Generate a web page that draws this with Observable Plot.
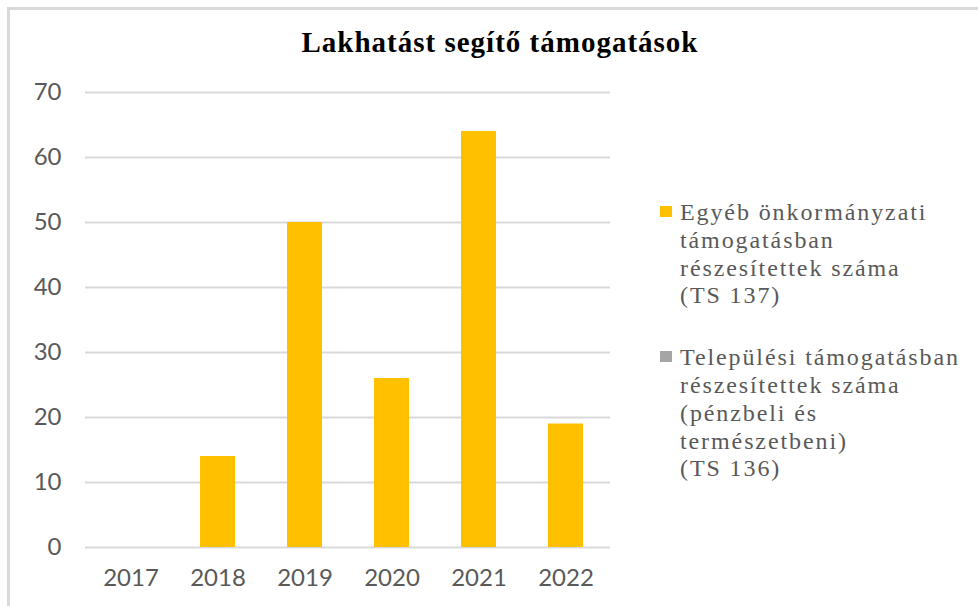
<!DOCTYPE html>
<html>
<head>
<meta charset="utf-8">
<script src="https://cdn.jsdelivr.net/npm/d3@7"></script>
<script src="https://cdn.jsdelivr.net/npm/@observablehq/plot@0.6"></script>
<style>
  html, body { margin: 0; padding: 0; background: #fff; }
  #wrap { position: relative; width: 978px; height: 606px; overflow: hidden; background: #fff; }
  #frame { position: absolute; left: 7px; top: 7px; width: 1000px; height: 700px; border-left: 3px solid #d9d9d9; border-top: 3px solid #d9d9d9; }
  #title { position: absolute; left: 0; width: 1000px; top: 26px; text-align: center; font-family: "Liberation Serif", serif; font-weight: bold; font-size: 29px; letter-spacing: 1px; color: #000; }
  #chart { position: absolute; left: 0; top: 0; }
  #legend { position: absolute; left: 660px; top: 199px; font-family: "Liberation Serif", serif; font-size: 24px; color: #595959; }
  .item { display: flex; align-items: flex-start; }
  .sw { width: 12px; height: 11px; margin-top: 7px; margin-right: 8px; flex: none; }
  .lab { white-space: pre-line; line-height: 27.8px; letter-spacing: 1.9px; }
</style>
</head>
<body>
<div id="wrap">
  <div id="frame"></div>
  <div id="chart"></div>
  <div id="title"></div>
  <div id="legend"></div>
</div>
<script>
const titleText = "Lakhatást segítő támogatások";
const years = ["2017", "2018", "2019", "2020", "2021", "2022"];
const seriesOther = [0, 14, 50, 26, 64, 19];        // Egyéb önkormányzati támogatásban részesítettek száma (TS 137)
const seriesTelepulesi = [null, null, null, null, null, null]; // Települési támogatásban ... (TS 136) – no values shown
const yTicks = [0, 10, 20, 30, 40, 50, 60, 70];
const seriesNames = [
  "Egyéb önkormányzati\ntámogatásban\nrészesítettek száma\n(TS 137)",
  "Települési támogatásban\nrészesítettek száma\n(pénzbeli és\ntermészetbeni)\n(TS 136)"
];
const seriesColors = ["#ffc000", "#a5a5a5"];

const data = years.map((y, i) => ({year: y, value: seriesOther[i]}));

const chart = Plot.plot({
  width: 978,
  height: 606,
  marginLeft: 85,
  marginRight: 368,
  marginTop: 92,
  marginBottom: 59,
  style: {fontFamily: "Lato, sans-serif", background: "transparent"},
  x: {domain: years, paddingInner: 0.6, paddingOuter: 0.3, label: null},
  y: {domain: [0, 70], label: null},
  marks: [
    Plot.ruleY(yTicks, {stroke: "#d9d9d9", strokeWidth: 2}),
    Plot.barY(data.filter(d => d.value > 0), {x: "year", y: "value", fill: seriesColors[0]}),
    Plot.axisY({ticks: yTicks, tickSize: 0, tickPadding: 24, fontSize: 24, fill: "#595959"}),
    Plot.axisX({tickSize: 0, tickPadding: 21, fontSize: 24, fill: "#595959"})
  ]
});
document.getElementById("chart").appendChild(chart);
document.getElementById("title").textContent = titleText;

const legend = document.getElementById("legend");
seriesNames.forEach((name, i) => {
  const item = document.createElement("div");
  item.className = "item";
  if (i > 0) item.style.marginTop = "34px";
  const sw = document.createElement("div");
  sw.className = "sw";
  sw.style.background = seriesColors[i];
  const lab = document.createElement("div");
  lab.className = "lab";
  lab.textContent = name;
  item.appendChild(sw);
  item.appendChild(lab);
  legend.appendChild(item);
});
</script>
</body>
</html>
